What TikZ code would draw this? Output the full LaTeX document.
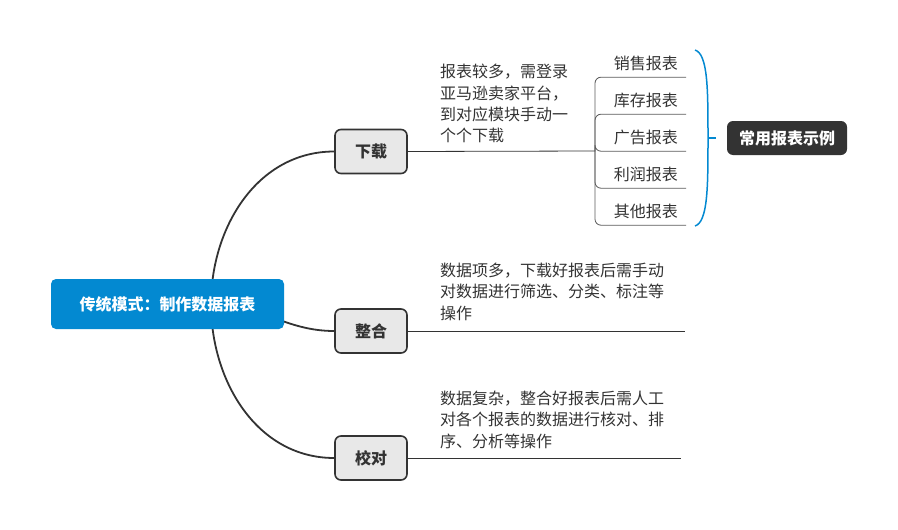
\documentclass[tikz,border=0pt]{standalone}
\usepackage{fontspec}
\setmainfont{Noto Sans CJK SC}
\usepackage{xcolor}
\usetikzlibrary{backgrounds}
\definecolor{mapblue}{RGB}{3,137,209}
\definecolor{mapdark}{RGB}{51,51,51}
\definecolor{mapgray}{RGB}{232,232,232}
\definecolor{mapline}{RGB}{90,90,90}

\begin{document}
\begin{tikzpicture}[x=1pt,y=-1pt]
    % Define styles
    \tikzstyle{root} = [rectangle, rounded corners=5pt, fill=mapblue, text=white, font=\fontsize{16}{20}\selectfont\bfseries, minimum width=233pt, minimum height=50pt]
    \tikzstyle{topic} = [rectangle, rounded corners=6pt, draw=mapdark, line width=1.6pt, fill=mapgray, text=mapdark, font=\fontsize{16}{20}\selectfont\bfseries, minimum width=72pt, minimum height=44pt]
    \tikzstyle{note} = [anchor=north west, inner sep=0pt, align=left, text=mapdark, font=\fontsize{16}{21.3}\selectfont]
    \tikzstyle{leaf} = [anchor=east, inner xsep=8pt, inner ysep=0pt, minimum height=28pt, text=mapdark, font=\fontsize{16}{20}\selectfont]
    \tikzstyle{callout} = [rectangle, rounded corners=6pt, fill=mapdark, text=white, font=\fontsize{16}{20}\selectfont\bfseries, minimum width=120pt, minimum height=34pt]
    \tikzstyle{branch} = [line width=1.8pt, mapdark]
    \tikzstyle{twig} = [line width=0.8pt, mapline, rounded corners=6pt]
    \tikzstyle{brace} = [line width=1.5pt, mapblue]

    \useasboundingbox (0,0) rectangle (898,530);

    % Create nodes
    \node (root) [root] at (167.5,304) {传统模式：制作数据报表};
    \coordinate (hub) at (211,304);

    \node (xz) [topic] at (371,151.5) {下载};
    \node (zh) [topic] at (371,331) {整合};
    \node (jd) [topic] at (371,458) {校对};

    \node (xzNote) [note] at (440,64) {报表较多，需登录\\亚马逊卖家平台，\\到对应模块手动一\\个个下载};
    \node (zhNote) [note] at (440,263) {数据项多，下载好报表后需手动\\对数据进行筛选、分类、标注等\\操作};
    \node (jdNote) [note] at (440,391) {数据复杂，整合好报表后需人工\\对各个报表的数据进行核对、排\\序、分析等操作};

    \coordinate (fork) at (595,151);
    \node (l1) [leaf] at (686,63) {销售报表};
    \node (l2) [leaf] at (686,100) {库存报表};
    \node (l3) [leaf] at (686,137) {广告报表};
    \node (l4) [leaf] at (686,174) {利润报表};
    \node (l5) [leaf] at (686,211) {其他报表};

    \node (ex) [callout] at (787,138) {常用报表示例};

    \coordinate (zhEnd) at (685,331);
    \coordinate (jdEnd) at (681,458);

    % Draw branches
    \begin{pgfonlayer}{background}
        \draw [branch] (hub) to[out=90,in=180] (xz.west);
        \draw [branch] (hub) to[out=0,in=180] (zh.west);
        \draw [branch] (hub) to[out=-90,in=180] (jd.west);
    \end{pgfonlayer}

    \draw [branch, line width=0.8pt] (xz.east) -- (fork);
    \draw [branch, line width=0.8pt] (zh.east) -- (zhEnd);
    \draw [branch, line width=0.8pt] (jd.east) -- (jdEnd);

    \draw [twig] (fork) |- (l1.south east);
    \draw [twig] (fork) |- (l2.south east);
    \draw [twig] (fork) |- (l3.south east);
    \draw [twig] (fork) |- (l4.south east);
    \draw [twig] (fork) |- (l5.south east);

    % Bracket
    \draw [brace] (695,50) .. controls (708,54) and (708,90) .. (708,138)
        .. controls (708,186) and (708,222) .. (695,226);
    \draw [brace] (708,138) -- (716,138);
\end{tikzpicture}
\end{document}
